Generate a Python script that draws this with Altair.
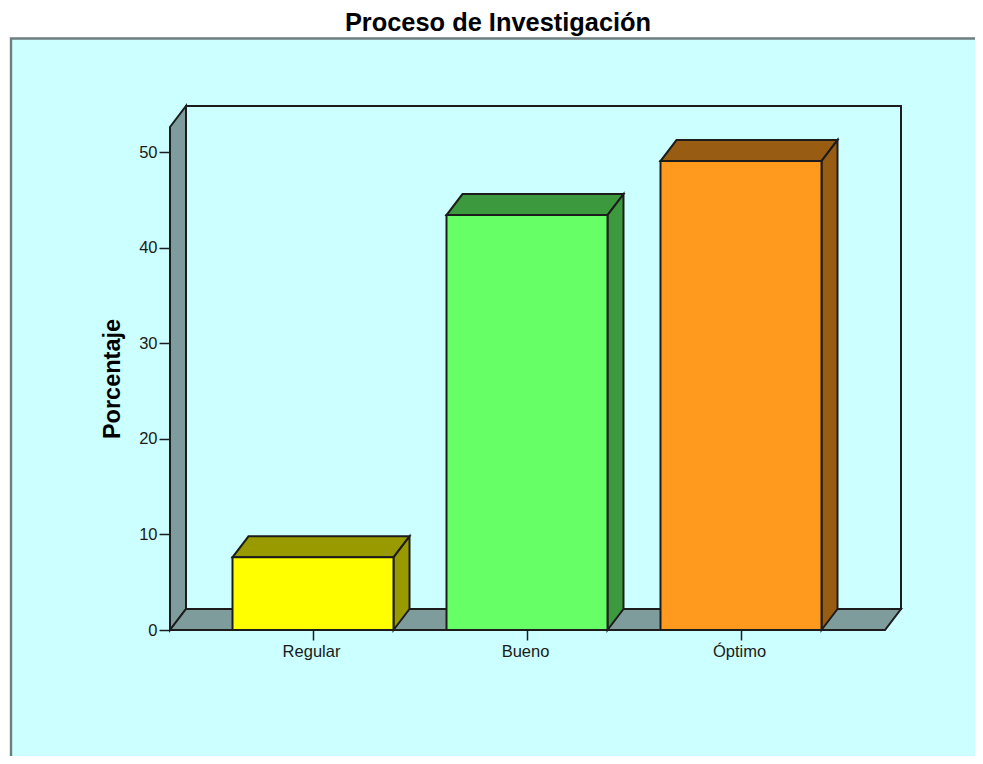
import altair as alt
import pandas as pd

categories = ["Regular", "Bueno", "Óptimo"]
positions = [1, 2, 3]
percentages = [7.6, 43.4, 49.05]
front_colors = ["#ffff00", "#66ff66", "#ff9a1f"]
shade_colors = ["#999900", "#3d993d", "#995c13"]
y_ticks = [0, 10, 20, 30, 40, 50]

PX_X, PX_Y = 214.0, 9.56
DX, DY = 16 / PX_X, 21 / PX_Y
HALF = 80.5 / PX_X
X0, X1 = 1 + (170 - 313) / PX_X, 1 + (885 - 313) / PX_X
YTOP = (630 - 127) / PX_Y
INK = "#1c1c1c"
WALL = "#7f9c9c"
BG = "#ccffff"

label_expr = "{" + ",".join(f"'{p}':'{c}'" for p, c in zip(positions, categories)) + "}[datum.value]"
xscale = alt.Scale(domain=[X0, X1], nice=False, zero=False)
yscale = alt.Scale(domain=[0, YTOP], nice=False, zero=False)
x_axis = alt.Axis(values=positions, labelExpr=label_expr, title=None, domain=False, grid=False,
                  tickSize=10, tickWidth=1.5, tickColor=INK, labelFont="Liberation Sans",
                  labelFontSize=16.5, labelColor="#1a1a1a", labelPadding=3, labelFlush=False,
                  labelOffset=-2, zindex=1)
y_axis = alt.Axis(values=y_ticks, title="Porcentaje", domain=False, grid=False, tickSize=11,
                  tickWidth=1.5, tickColor=INK, labelFont="Liberation Sans", labelFontSize=16.5,
                  labelColor="#1a1a1a", labelPadding=2, titleFont="Liberation Sans",
                  titleFontSize=23.5, titleFontWeight="bold", titleColor="#000000", titlePadding=14,
                  zindex=1)


def poly(points, fill, stroke=INK, width=2.0):
    df = pd.DataFrame(points, columns=["x", "lo", "hi"])
    return alt.Chart(df).mark_area(fill=fill, stroke=stroke, strokeWidth=width, opacity=1,
                                   orient="vertical", strokeJoin="miter").encode(
        x=alt.X("x:Q", scale=xscale, axis=x_axis),
        y=alt.Y("lo:Q", scale=yscale, axis=y_axis),
        y2="hi:Q",
    )


layers = [
    # outer panel
    poly([(1 + (11 - 313) / PX_X, (630 - 800) / PX_Y, (630 - 38.5) / PX_Y),
          (1 + (1000 - 313) / PX_X, (630 - 800) / PX_Y, (630 - 38.5) / PX_Y)],
         BG, stroke="#6f7f7f", width=2.4),
    # back wall
    poly([(X0 + DX, DY, YTOP + DY), (X1 + DX, DY, YTOP + DY)], BG),
    # left wall
    poly([(X0, 0, YTOP), (X0 + DX, DY, YTOP + DY)], WALL),
    # floor
    poly([(X0, 0, 0), (X0 + DX, 0, DY), (X1, 0, DY), (X1 + DX, DY, DY)], WALL),
]

for p, v, front, shade in zip(positions, percentages, front_colors, shade_colors):
    a, b = p - HALF, p + HALF
    layers.append(poly([(a, v, v), (a + DX, v, v + DY), (b, v, v + DY), (b + DX, v + DY, v + DY)], shade))
    layers.append(poly([(b, 0, v), (b + DX, DY, v + DY)], shade))
    layers.append(poly([(a, 0, v), (b, 0, v)], front))

chart = alt.layer(*layers).properties(
    width=715,
    height=503,
    padding={"left": 162, "top": 119, "right": 90, "bottom": 126},
    autosize=alt.AutoSizeParams(type="none"),
    background="white",
    title=alt.TitleParams("Proceso de Investigación", font="Liberation Sans", fontSize=25.4,
                          fontWeight="bold", color="#000000", anchor="middle", dx=-29.5, offset=-3),
).configure_view(stroke=None)

chart.save("out.html", embed_options={"renderer": "svg", "actions": False})
